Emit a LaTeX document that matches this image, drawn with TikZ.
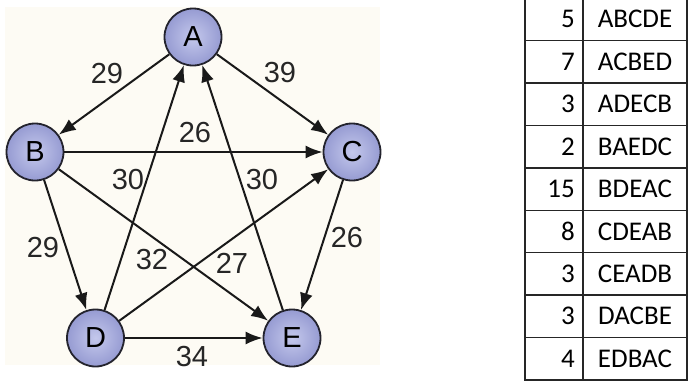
\documentclass[tikz,border=0pt]{standalone}
\usepackage{fontspec}
\setmainfont{Liberation Sans}
\newfontfamily\tabfont{Carlito}
\usetikzlibrary{arrows.meta}
\definecolor{bgcream}{RGB}{253,251,244}
\definecolor{nodeblue}{RGB}{150,155,210}
\definecolor{nodelight}{RGB}{196,200,236}
\definecolor{linegray}{RGB}{35,35,45}
\tikzset{
  vtx/.style={circle, draw=linegray, line width=1.8pt, minimum size=57pt, inner sep=0pt,
    inner color=nodelight, outer color=nodeblue, font=\fontsize{29}{29}\selectfont},
  edge/.style={line width=2pt, draw=black!90, -{Latex[length=17pt,width=13pt]}},
  wlabel/.style={font=\fontsize{29}{29}\selectfont, text=black!85, inner sep=0pt},
  cellnum/.style={font=\tabfont\fontsize{27}{27}\selectfont, anchor=east, inner sep=0pt},
  celltxt/.style={font=\tabfont\fontsize{27}{27}\selectfont, anchor=center, inner sep=0pt},
  tline/.style={line width=1.4pt, draw=black!85}
}
\begin{document}
\begin{tikzpicture}[x=1pt,y=-1pt]
\useasboundingbox (0,0) rectangle (689,389);
\fill[bgcream] (5,7) rectangle (380,365);
% nodes
\node[vtx] (A) at (193,37) {A};
\node[vtx] (B) at (35,152) {B};
\node[vtx] (C) at (352,152) {C};
\node[vtx] (D) at (95.5,338) {D};
\node[vtx] (E) at (292,338) {E};
% edges
\draw[edge] (A) -- (B);
\draw[edge] (A) -- (C);
\draw[edge] (B) -- (C);
\draw[edge] (B) -- (D);
\draw[edge] (B) -- (E);
\draw[edge] (D) -- (A);
\draw[edge] (E) -- (A);
\draw[edge] (D) -- (C);
\draw[edge] (C) -- (E);
\draw[edge] (D) -- (E);
% weights
\node[wlabel] (wAB) at (107,74) {29};
\node[wlabel] (wAC) at (280,73) {39};
\node[wlabel] (wBC) at (195,133) {26};
\node[wlabel] (wDA) at (128,180) {30};
\node[wlabel] (wEA) at (262,180) {30};
\node[wlabel] (wBD) at (43,248) {29};
\node[wlabel] (wDC) at (152,260) {32};
\node[wlabel] (wBE) at (232,263) {27};
\node[wlabel] (wCE) at (347,238) {26};
\node[wlabel] (wDE) at (192,357) {34};
% table
\draw[tline] (525,-2) rectangle (687,380);
\draw[tline] (583,-2) -- (583,380);
\foreach \y in {40.4,82.9,125.3,167.8,210.2,252.7,295.1,337.6} {
  \draw[tline] (525,\y) -- (687,\y);
}
\foreach \i/\n/\s in {1/5/ABCDE,2/7/ACBED,3/3/ADECB,4/2/BAEDC,5/15/BDEAC,6/8/CDEAB,7/3/CEADB,8/3/DACBE,9/4/EDBAC} {
  \pgfmathsetmacro{\yc}{-2+42.44*(\i-0.5)}
  \node[cellnum] (n\i) at (575,\yc) {\n};
  \node[celltxt] (p\i) at (635,\yc) {\s};
}
\end{tikzpicture}
\end{document}
